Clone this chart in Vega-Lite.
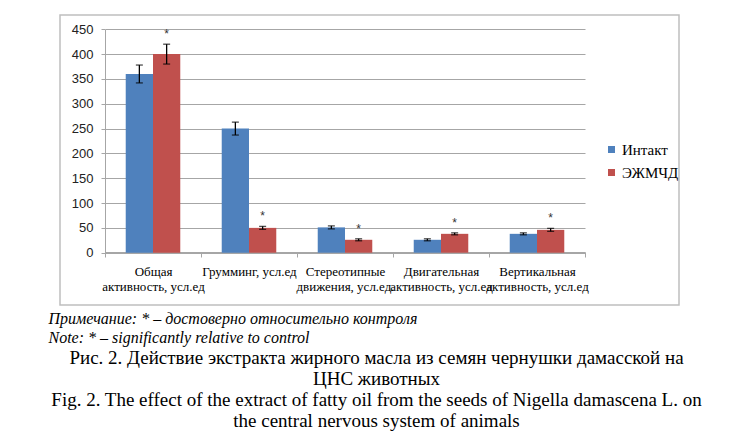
{
  "$schema": "https://vega.github.io/schema/vega-lite/v6.json",
  "width": 619,
  "height": 290,
  "autosize": "none",
  "padding": {"left": 60, "top": 15, "right": 75, "bottom": 132},
  "background": "white",
  "config": {"view": {"stroke": "#BFBFBF", "strokeWidth": 1.5}},
  "title": {
    "text": ["Рис. 2. Действие экстракта жирного масла из семян чернушки дамасской на", "ЦНС животных", "Fig. 2. The effect of the extract of fatty oil from the seeds of Nigella damascena L. on", "the central nervous system of animals"],
    "orient": "bottom",
    "anchor": "middle",
    "frame": "group",
    "dx": 7,
    "offset": 4,
    "baseline": "top",
    "font": "Liberation Serif",
    "fontSize": 19,
    "fontWeight": "normal",
    "lineHeight": 21,
    "color": "#000"
  },
  "data": {
    "values": [
      {"cat": "Общая|активность, усл.ед", "series": "Интакт", "value": 360, "lo": 342, "hi": 378, "sig": ""},
      {"cat": "Общая|активность, усл.ед", "series": "ЭЖМЧД", "value": 400, "lo": 380, "hi": 420, "sig": "*"},
      {"cat": "Грумминг, усл.ед", "series": "Интакт", "value": 250, "lo": 237, "hi": 263, "sig": ""},
      {"cat": "Грумминг, усл.ед", "series": "ЭЖМЧД", "value": 50, "lo": 47, "hi": 53, "sig": "*"},
      {"cat": "Стереотипные|движения, усл.ед.", "series": "Интакт", "value": 51, "lo": 48, "hi": 54, "sig": ""},
      {"cat": "Стереотипные|движения, усл.ед.", "series": "ЭЖМЧД", "value": 26, "lo": 24, "hi": 28, "sig": "*"},
      {"cat": "Двигательная|активность, усл.ед", "series": "Интакт", "value": 26, "lo": 24, "hi": 28, "sig": ""},
      {"cat": "Двигательная|активность, усл.ед", "series": "ЭЖМЧД", "value": 38, "lo": 36, "hi": 40, "sig": "*"},
      {"cat": "Вертикальная|активность, усл.ед", "series": "Интакт", "value": 38, "lo": 36, "hi": 40, "sig": ""},
      {"cat": "Вертикальная|активность, усл.ед", "series": "ЭЖМЧД", "value": 46, "lo": 43, "hi": 49, "sig": "*"}
    ]
  },
  "encoding": {
    "x": {
      "field": "cat",
      "type": "nominal",
      "sort": null,
      "scale": {"range": [45, 525], "paddingInner": 0, "paddingOuter": 0},
      "axis": {
        "orient": "bottom",
        "offset": -53,
        "labelExpr": "split(datum.label, '|')",
        "labelAngle": 0,
        "labelFont": "Liberation Serif",
        "labelFontSize": 13,
        "labelLineHeight": 15,
        "labelColor": "#000",
        "labelPadding": 8,
        "labelOverlap": false,
        "labelBound": false,
        "labelLimit": 0,
        "tickBand": "extent",
        "tickSize": 5,
        "tickColor": "#A6A6A6",
        "domainColor": "#A6A6A6",
        "title": ["Примечание: * – достоверно относительно контроля", "Note: * – significantly  relative to control"],
        "titleFont": "Liberation Serif",
        "titleFontStyle": "italic",
        "titleFontWeight": "normal",
        "titleFontSize": 16,
        "titleLineHeight": 19,
        "titleColor": "#000",
        "titleAlign": "left",
        "titleBaseline": "top",
        "titleX": -12,
        "titleY": 58
      }
    },
    "xOffset": {
      "field": "series",
      "type": "nominal",
      "sort": ["Интакт", "ЭЖМЧД"],
      "scale": {"paddingInner": 0, "paddingOuter": 0.76}
    }
  },
  "layer": [
    {
      "mark": {"type": "bar"},
      "encoding": {
        "y": {
          "field": "value",
          "type": "quantitative",
          "scale": {"domain": [0, 450], "range": [237.7, 14.3], "nice": false},
          "axis": {
            "orient": "left",
            "offset": -45,
            "values": [0, 50, 100, 150, 200, 250, 300, 350, 400, 450],
            "tickCount": 12,
            "grid": true,
            "gridColor": "#A6A6A6",
            "domainColor": "#A6A6A6",
            "tickColor": "#A6A6A6",
            "tickSize": 4,
            "labelFont": "Liberation Sans",
            "labelFontSize": 13,
            "labelColor": "#222",
            "labelPadding": 8,
            "labelOverlap": false,
            "labelBound": false,
            "labelFlush": false,
            "title": null
          }
        },
        "color": {
          "field": "series",
          "type": "nominal",
          "scale": {"domain": ["Интакт", "ЭЖМЧД"], "range": ["#4F81BD", "#C0504D"]},
          "legend": {
            "title": null,
            "orient": "none",
            "legendX": 544,
            "legendY": 127,
            "symbolType": "square",
            "symbolSize": 49,
            "symbolStrokeWidth": 0,
            "labelFont": "Liberation Serif",
            "labelFontSize": 15,
            "labelColor": "#000",
            "labelOffset": 3,
            "rowPadding": 7,
            "padding": 0
          }
        }
      }
    },
    {
      "mark": {"type": "rule", "color": "#000", "strokeWidth": 1.3},
      "encoding": {
        "y": {"field": "lo", "type": "quantitative"},
        "y2": {"field": "hi"}
      }
    },
    {
      "mark": {"type": "tick", "color": "#000", "thickness": 1.3, "size": 7, "orient": "horizontal"},
      "encoding": {"y": {"field": "lo", "type": "quantitative"}}
    },
    {
      "mark": {"type": "tick", "color": "#000", "thickness": 1.3, "size": 7, "orient": "horizontal"},
      "encoding": {"y": {"field": "hi", "type": "quantitative"}}
    },
    {
      "mark": {"type": "text", "font": "Liberation Sans", "fontSize": 12, "color": "#333", "baseline": "alphabetic", "dy": -6},
      "encoding": {
        "y": {"field": "hi", "type": "quantitative"},
        "text": {"field": "sig"}
      }
    }
  ]
}
